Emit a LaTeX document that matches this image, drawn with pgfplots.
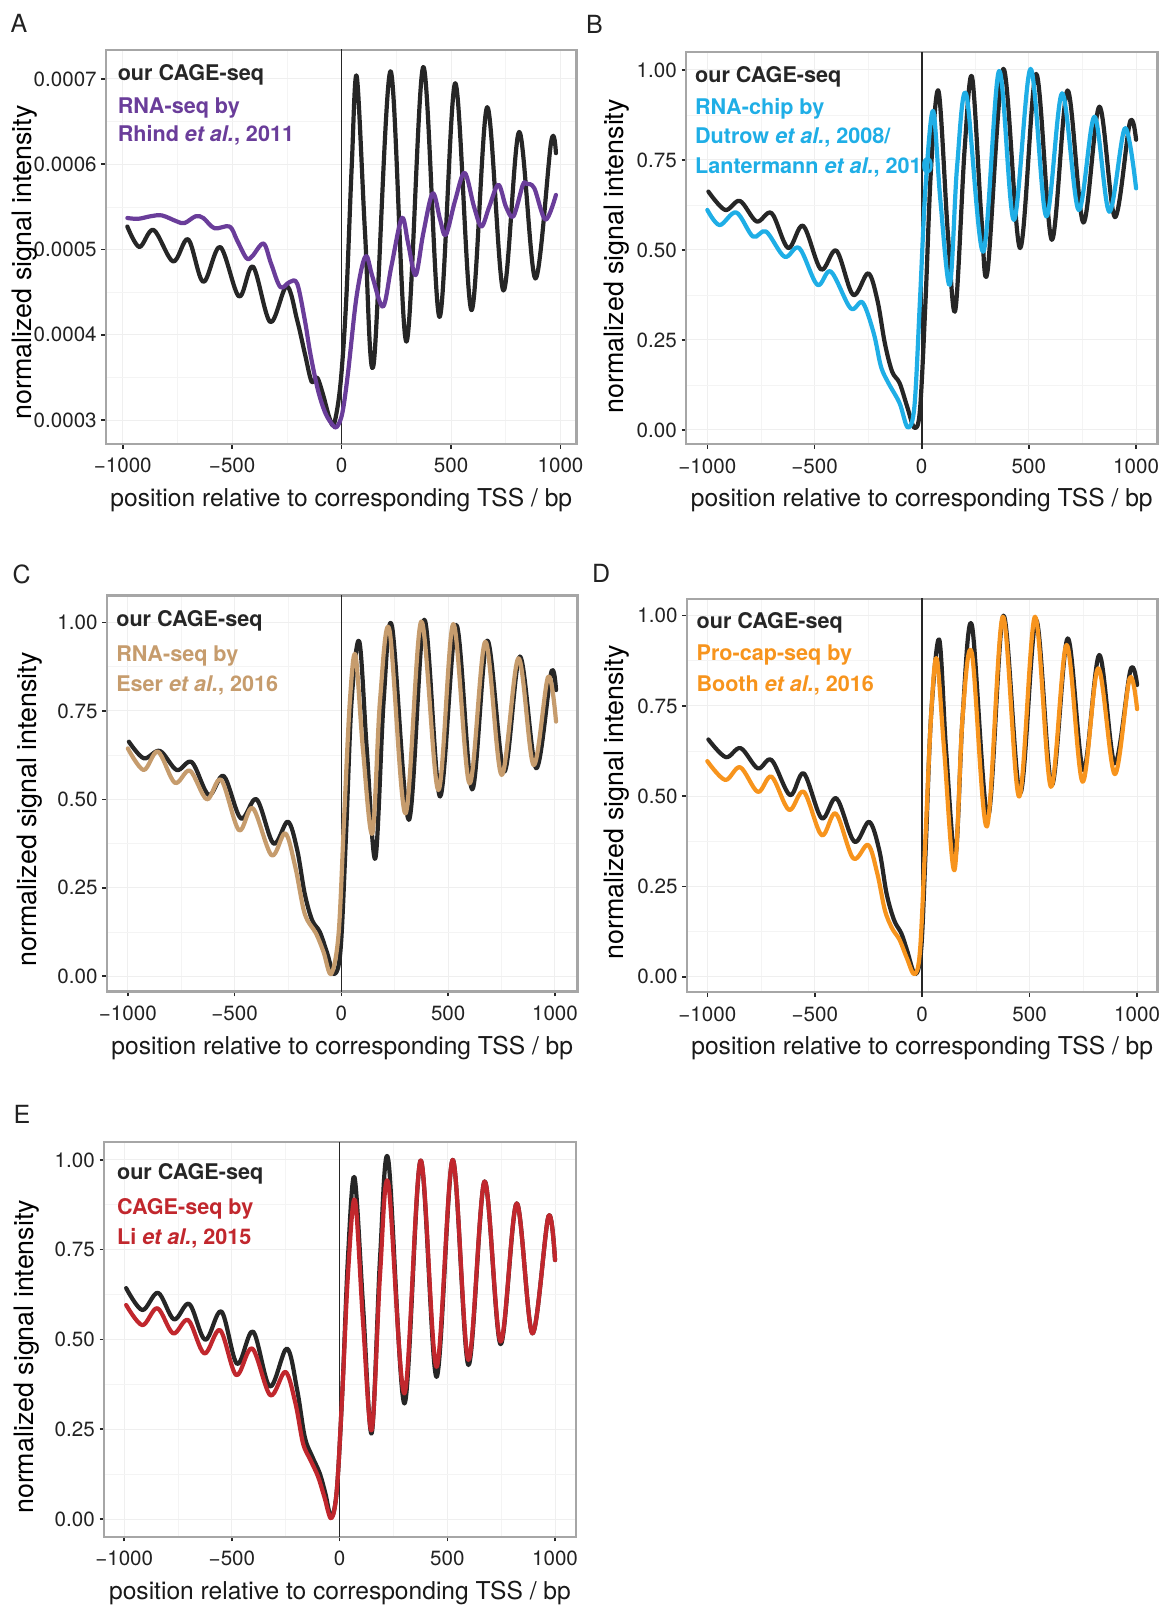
\documentclass[border=0pt]{standalone}
\usepackage{pgfplots}
\pgfplotsset{compat=1.18}
\usepackage{fontspec}
\setmainfont{TeX Gyre Heros}
\definecolor{cblack}{HTML}{262626}
\definecolor{cpurple}{HTML}{6A3D9A}
\definecolor{ccyan}{HTML}{1FAEE6}
\definecolor{ctan}{HTML}{C69C6D}
\definecolor{corange}{HTML}{F7941D}
\definecolor{cred}{HTML}{C1272D}
\definecolor{framec}{HTML}{A6A6A6}
\definecolor{gridc}{HTML}{EFEFEF}
\definecolor{textc}{HTML}{222222}

\pgfplotsset{
  panel/.style={
    scale only axis,
    anchor=south west,
    axis line style={framec, line width=1.2pt},
    tick align=outside,
    tick pos=left,
    major tick length=2.3pt,
    minor tick length=0pt,
    tick style={black!85, line width=0.8pt},
    xtick={-1000,-500,0,500,1000},
    xticklabels={−1000,−500,0,500,1000},
    minor xtick={-750,-250,250,750},
    grid=both,
    major grid style={gridc, line width=0.5pt},
    minor grid style={gridc!70, line width=0.35pt},
    scaled y ticks=false,
    /pgf/number format/assume math mode=true,
    xticklabel style={font=\fontsize{10.3}{11}\selectfont, text=textc, anchor=base, yshift=-12.2pt},
    yticklabel style={font=\fontsize{10.3}{11}\selectfont, text=textc, anchor=east, inner xsep=0pt, xshift=-2.2pt},
    xlabel={\fontsize{12.3}{13}\selectfont position relative to corresponding TSS / bp},
    ylabel={\fontsize{13.4}{14}\selectfont normalized signal intensity},
    xlabel style={at={(axis description cs:0.5,0)}, anchor=base, yshift=-31.3pt, text=black!90},
    clip=true,
  },
  vline/.style={cblack, line width=0.8pt, forget plot},
  curve/.style={line width=2.1pt, smooth, tension=0.55, line join=round, line cap=round},
  ycage/.style={ytick={0,0.25,0.5,0.75,1}, yticklabels={0.00,0.25,0.50,0.75,1.00},
    minor ytick={0.125,0.375,0.625,0.875}},
}
\tikzset{
  lg/.style={anchor=base west, inner sep=0pt, font=\fontsize{10.8}{12}\selectfont\bfseries},
  letter/.style={anchor=base west, inner sep=0pt, font=\fontsize{12.5}{13}\selectfont, text=textc},
}
\newcommand{\etal}{\textit{et al.}}

\begin{document}
\begin{tikzpicture}
\path[use as bounding box] (0pt,0pt) rectangle (582pt,802.5pt);

% ---------------- Panel A ----------------
\node[letter] at (5.1pt,786pt) {A};
\begin{axis}[panel, at={(53.05pt,580.5pt)}, width=235.2pt, height=197pt,
  xmin=-1076, xmax=1073, ymin=0.000272, ymax=0.000734,
  ytick={0.0003,0.0004,0.0005,0.0006,0.0007},
  yticklabels={0.0003,0.0004,0.0005,0.0006,0.0007},
  minor ytick={0.00035,0.00045,0.00055,0.00065},
  ylabel style={at={(axis description cs:-0.158,0.461)}, anchor=base}]
\addplot[vline] coordinates {(0,0.0002) (0,0.0008)};
\addplot[curve, cblack] coordinates {
(-979,5.27e-4)(-924,5.03e-4)(-859,5.23e-4)(-770,4.86e-4)(-701,5.12e-4)(-632,4.62e-4)
(-555,5.03e-4)(-469,4.45e-4)(-405,4.80e-4)(-326,4.15e-4)(-251,4.57e-4)(-203,4.17e-4)
(-168,3.78e-4)(-137,3.45e-4)(-112,3.50e-4)(-85,3.30e-4)(-55,3.02e-4)(-34,2.96e-4)
(-5,3.43e-4)(21,4.41e-4)(46,5.97e-4)(69,7.03e-4)(107,5.19e-4)(146,3.65e-4)
(223,7.09e-4)(296,3.92e-4)(373,7.14e-4)(447,4.21e-4)(519,6.95e-4)(593,4.29e-4)
(665,6.67e-4)(739,4.52e-4)(811,6.38e-4)(885,4.66e-4)(957,6.26e-4)(979,6.13e-4)};
\addplot[curve, cpurple] coordinates {
(-979,5.37e-4)(-930,5.36e-4)(-873,5.39e-4)(-821,5.40e-4)(-753,5.33e-4)(-718,5.31e-4)
(-667,5.39e-4)(-632,5.37e-4)(-581,5.25e-4)(-512,5.27e-4)(-478,5.11e-4)(-435,4.90e-4)
(-409,4.92e-4)(-357,5.07e-4)(-323,4.84e-4)(-280,4.56e-4)(-237,4.62e-4)(-203,4.60e-4)
(-168,4.17e-4)(-143,3.78e-4)(-108,3.35e-4)(-74,3.08e-4)(-40,2.94e-4)(-22,2.92e-4)
(3,3.08e-4)(29,3.55e-4)(64,4.37e-4)(93,4.80e-4)(115,4.92e-4)(141,4.68e-4)
(189,4.33e-4)(227,4.80e-4)(275,5.37e-4)(304,5.07e-4)(338,4.70e-4)(373,5.19e-4)
(416,5.66e-4)(450,5.35e-4)(476,5.17e-4)(519,5.58e-4)(562,5.90e-4)(605,5.50e-4)
(639,5.27e-4)(674,5.50e-4)(716,5.76e-4)(751,5.50e-4)(785,5.39e-4)(828,5.76e-4)
(845,5.77e-4)(880,5.72e-4)(931,5.35e-4)(979,5.64e-4)};
\node[lg, text=cblack, xshift=5.65pt, yshift=-15.3pt] at (rel axis cs:0,1) {our CAGE-seq};
\node[lg, text=cpurple, xshift=5.65pt, yshift=-32pt] at (rel axis cs:0,1) {RNA-seq by};
\node[lg, text=cpurple, xshift=5.65pt, yshift=-46pt] at (rel axis cs:0,1) {Rhind \etal, 2011};
\end{axis}

% ---------------- Panel B ----------------
\node[letter] at (292.8pt,785.85pt) {B};
\begin{axis}[panel, ycage, at={(343.05pt,580.35pt)}, width=235.7pt, height=196pt,
  xmin=-1099, xmax=1100, ymin=-0.040, ymax=1.049,
  ylabel style={at={(axis description cs:-0.132,0.480)}, anchor=base}]
\addplot[vline] coordinates {(0,-0.2) (0,1.2)};
\addplot[curve, cblack] coordinates {
(-995,0.662)(-917,0.611)(-848,0.636)(-770,0.579)(-700,0.602)(-623,0.505)(-553,0.567)
(-470,0.446)(-398,0.498)(-320,0.375)(-250,0.435)(-207,0.361)(-172,0.241)(-138,0.162)
(-103,0.130)(-68,0.065)(-34,0.006)(-8,0.056)(18,0.361)(44,0.731)(79,0.940)(122,0.546)
(157,0.333)(200,0.778)(235,0.980)(278,0.593)(307,0.440)(381,1.003)(459,0.505)(534,0.989)
(607,0.528)(680,0.943)(754,0.576)(829,0.898)(901,0.591)(971,0.854)(1000,0.806)};
\addplot[curve, ccyan] coordinates {
(-1000,0.611)(-943,0.569)(-865,0.604)(-787,0.537)(-726,0.551)(-640,0.481)(-571,0.505)
(-487,0.403)(-424,0.440)(-332,0.338)(-276,0.354)(-224,0.269)(-190,0.176)(-155,0.130)
(-103,0.074)(-65,0.007)(-34,0.065)(-8,0.361)(18,0.676)(53,0.886)(87,0.639)(131,0.403)
(165,0.731)(208,0.932)(287,0.495)(361,0.997)(430,0.583)(508,1.003)(581,0.593)(655,0.935)
(732,0.611)(806,0.870)(875,0.606)(948,0.838)(1000,0.671)};
\node[lg, text=cblack, xshift=4.3pt, yshift=-15pt] at (rel axis cs:0,1) {our CAGE-seq};
\node[lg, text=ccyan, xshift=4.3pt, yshift=-31pt] at (rel axis cs:0,1) {RNA-chip by};
\node[lg, text=ccyan, xshift=4.3pt, yshift=-45.7pt] at (rel axis cs:0,1) {Dutrow \etal, 2008/};
\node[lg, text=ccyan, xshift=4.3pt, yshift=-60.5pt] at (rel axis cs:0,1) {Lantermann \etal, 2010};
\end{axis}

% ---------------- Panel C ----------------
\node[letter] at (6.1pt,510.85pt) {C};
\begin{axis}[panel, ycage, at={(53.45pt,306.65pt)}, width=235.35pt, height=198pt,
  xmin=-1098, xmax=1106, ymin=-0.044, ymax=1.076,
  ylabel style={at={(axis description cs:-0.150,0.461)}, anchor=base}]
\addplot[vline] coordinates {(0,-0.2) (0,1.2)};
\addplot[curve, cblack] coordinates {
(-995,0.663)(-925,0.616)(-850,0.637)(-771,0.583)(-700,0.605)(-621,0.512)(-551,0.566)
(-471,0.446)(-397,0.500)(-318,0.375)(-251,0.437)(-207,0.357)(-172,0.234)(-137,0.158)
(-101,0.125)(-66,0.064)(-34,0.006)(-4,0.074)(22,0.404)(48,0.781)(84,0.946)(119,0.640)
(159,0.333)(198,0.781)(237,0.989)(316,0.442)(388,1.008)(462,0.508)(538,0.993)(612,0.528)
(683,0.949)(762,0.578)(836,0.904)(912,0.588)(982,0.858)(1005,0.809)};
\addplot[curve, ctan] coordinates {
(-1000,0.644)(-926,0.583)(-859,0.635)(-780,0.547)(-709,0.581)(-630,0.500)(-563,0.555)
(-480,0.413)(-415,0.475)(-327,0.342)(-263,0.404)(-216,0.309)(-172,0.177)(-119,0.121)
(-84,0.069)(-48,0.006)(-13,0.121)(13,0.451)(40,0.781)(66,0.908)(101,0.640)(145,0.404)
(181,0.781)(225,0.979)(300,0.460)(374,1.003)(454,0.526)(524,0.996)(600,0.545)(674,0.946)
(750,0.569)(829,0.899)(900,0.597)(968,0.847)(1005,0.720)};
\node[lg, text=cblack, xshift=4.5pt, yshift=-15.5pt] at (rel axis cs:0,1) {our CAGE-seq};
\node[lg, text=ctan, xshift=4.5pt, yshift=-33pt] at (rel axis cs:0,1) {RNA-seq by};
\node[lg, text=ctan, xshift=4.5pt, yshift=-47.7pt] at (rel axis cs:0,1) {Eser \etal, 2016};
\end{axis}

% ---------------- Panel D ----------------
\node[letter] at (295.9pt,511.35pt) {D};
\begin{axis}[panel, ycage, at={(343.45pt,306.35pt)}, width=235.3pt, height=196.65pt,
  xmin=-1095, xmax=1095, ymin=-0.043, ymax=1.046,
  ylabel style={at={(axis description cs:-0.134,0.483)}, anchor=base}]
\addplot[vline] coordinates {(0,-0.2) (0,1.2)};
\addplot[curve, cblack] coordinates {
(-995,0.657)(-914,0.608)(-845,0.633)(-765,0.577)(-701,0.600)(-615,0.503)(-551,0.563)
(-468,0.439)(-399,0.494)(-316,0.374)(-247,0.429)(-200,0.351)(-166,0.231)(-131,0.157)
(-97,0.120)(-71,0.074)(-33,0.007)(-5,0.074)(16,0.351)(41,0.720)(79,0.934)(111,0.628)
(154,0.332)(188,0.720)(231,0.974)(306,0.443)(378,1.000)(456,0.508)(530,0.988)(603,0.531)
(677,0.937)(750,0.572)(824,0.891)(896,0.591)(969,0.849)(1000,0.808)};
\addplot[curve, corange] coordinates {
(-1000,0.597)(-917,0.545)(-847,0.580)(-765,0.512)(-701,0.554)(-620,0.462)(-551,0.512)
(-468,0.392)(-402,0.452)(-321,0.328)(-252,0.365)(-209,0.286)(-174,0.185)(-140,0.134)
(-105,0.102)(-71,0.051)(-36,0.007)(-10,0.074)(16,0.397)(41,0.720)(67,0.882)(102,0.628)
(150,0.295)(188,0.720)(231,0.896)(301,0.416)(375,0.997)(451,0.499)(525,0.997)(599,0.526)
(672,0.919)(746,0.540)(819,0.854)(896,0.561)(965,0.826)(1000,0.741)};
\node[lg, text=cblack, xshift=4.65pt, yshift=-15pt] at (rel axis cs:0,1) {our CAGE-seq};
\node[lg, text=corange, xshift=4.65pt, yshift=-31pt] at (rel axis cs:0,1) {Pro-cap-seq by};
\node[lg, text=corange, xshift=4.65pt, yshift=-46.2pt] at (rel axis cs:0,1) {Booth \etal, 2016};
\end{axis}

% ---------------- Panel E ----------------
\node[letter] at (6.65pt,240.85pt) {E};
\begin{axis}[panel, ycage, at={(52.1pt,34.15pt)}, width=235.75pt, height=197.2pt,
  xmin=-1093, xmax=1096, ymin=-0.049, ymax=1.049,
  ylabel style={at={(axis description cs:-0.151,0.456)}, anchor=base}]
\addplot[vline] coordinates {(0,-0.2) (0,1.2)};
\addplot[curve, cblack] coordinates {
(-991,0.643)(-916,0.582)(-843,0.630)(-769,0.556)(-698,0.599)(-624,0.499)(-549,0.578)
(-476,0.432)(-402,0.522)(-324,0.369)(-245,0.475)(-197,0.359)(-162,0.229)(-127,0.174)
(-92,0.127)(-66,0.071)(-39,0.006)(-13,0.081)(13,0.359)(39,0.731)(69,0.952)(109,0.591)
(149,0.239)(188,0.731)(226,1.000)(301,0.322)(376,0.998)(450,0.396)(525,1.000)(598,0.429)
(673,0.940)(747,0.487)(822,0.879)(895,0.517)(969,0.842)(1000,0.721)};
\addplot[curve, cred] coordinates {
(-991,0.596)(-916,0.540)(-846,0.587)(-773,0.517)(-703,0.554)(-628,0.461)(-555,0.526)
(-480,0.401)(-406,0.475)(-322,0.345)(-252,0.410)(-205,0.322)(-170,0.211)(-135,0.164)
(-100,0.118)(-71,0.062)(-39,0.002)(-13,0.081)(13,0.359)(39,0.684)(71,0.889)(109,0.545)
(149,0.248)(188,0.684)(226,0.935)(301,0.350)(376,0.998)(450,0.424)(525,1.000)(598,0.443)
(673,0.940)(747,0.494)(822,0.879)(895,0.517)(969,0.842)(1000,0.721)};
\node[lg, text=cblack, xshift=6.25pt, yshift=-18.5pt] at (rel axis cs:0,1) {our CAGE-seq};
\node[lg, text=cred, xshift=6.25pt, yshift=-36pt] at (rel axis cs:0,1) {CAGE-seq by};
\node[lg, text=cred, xshift=6.25pt, yshift=-51.2pt] at (rel axis cs:0,1) {Li \etal, 2015};
\end{axis}
\end{tikzpicture}
\end{document}
